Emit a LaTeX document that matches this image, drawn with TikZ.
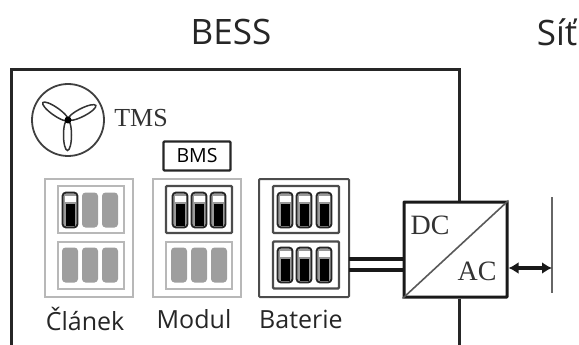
\documentclass[tikz,border=0pt]{standalone}
\usepackage{fontspec}
\setmainfont{Open Sans}
\newfontfamily\serifface{Liberation Serif}
\tikzset{
  wire/.style={line width=3pt, black!85},
  unitoff/.style={draw=black!28, line width=2pt, minimum width=88pt, minimum height=118pt, inner sep=0pt},
  uniton/.style={draw=black!70, line width=2pt, rounded corners=1pt, minimum width=90pt, minimum height=118pt, inner sep=0pt},
  packoff/.style={draw=black!28, line width=2pt, minimum width=66pt, minimum height=47pt, inner sep=0pt},
  packon/.style={draw=black!70, line width=2.2pt, rounded corners=1pt, minimum width=66pt, minimum height=47pt, inner sep=0pt},
  celloff/.style={fill=black!38, rounded corners=3.5pt, minimum width=16pt, minimum height=35pt, inner sep=0pt},
  cellon/.style={draw=black!85, fill=black!40, line width=1.8pt, rounded corners=3.5pt, minimum width=15pt, minimum height=35pt, inner sep=0pt},
  celltop/.style={fill=white, minimum width=11pt, minimum height=6pt, inner sep=0pt},
  cellcore/.style={fill=black, minimum width=9pt, minimum height=22pt, inner sep=0pt},
  blade/.style={draw=black!80, line width=1.5pt, ellipse, minimum width=31pt, minimum height=8pt, inner sep=0pt},
  caption/.style={font=\fontsize{25}{28}\selectfont, text=black!85, inner sep=0pt},
  title/.style={font=\fontsize{35}{38}\selectfont, text=black!85, inner sep=0pt},
  serif/.style={font=\serifface\fontsize{26}{28}\selectfont, text=black!80, inner sep=0pt}
}
\usetikzlibrary{shapes.geometric, arrows.meta}
\begin{document}
\begin{tikzpicture}[x=1pt, y=-1pt]
  \useasboundingbox (0,0) rectangle (579,345);
  % titles
  \node[title] (bess) at (231,32) {BESS};
  \node[title] (sit) at (557,32) {Síť};
  % frame of the storage
  \coordinate (fa) at (11,345);
  \coordinate (fb) at (11,70);
  \coordinate (fc) at (459,70);
  \coordinate (fd) at (459,345);
  % fan
  \node[draw=black!75, line width=1.8pt, circle, minimum size=72pt, inner sep=0pt] (fan) at (68,120) {};
  \node[blade, rotate=-35] (b1) at (55.5,111.5) {};
  \node[blade, rotate=27] (b2) at (82,112.5) {};
  \node[blade, rotate=90] (b3) at (67.5,135) {};
  \node[fill=black, circle, minimum size=7pt, inner sep=0pt] (hub) at (68,120) {};
  \node[serif] (tms) at (141,118) {TMS};
  % management box
  \node[draw=black!85, line width=2.4pt, rounded corners=1pt, minimum width=67pt, minimum height=29pt, inner sep=0pt, font=\fontsize{19.5}{22}\selectfont] (bms) at (197,156) {BMS};
  % units
  \node[unitoff] (clanek) at (89,238) {};
  \node[unitoff] (modul) at (197,238) {};
  \node[uniton] (baterie) at (304,238) {};
  \node[caption] (tclanek) at (85,319) {Článek};
  \node[caption] (tmodul) at (194,319) {Modul};
  \node[caption] (tbaterie) at (301,319) {Baterie};
  % packs
  \node[packoff] (p1) at (91,209.5) {};
  \node[packoff] (p2) at (91,265) {};
  \node[packon] (p3) at (199,209.5) {};
  \node[packoff] (p4) at (199,265) {};
  \node[packon] (p5) at (306,209.5) {};
  \node[packon] (p6) at (306,265) {};
  % cells
  \foreach \cx/\cy in {90/210, 110/210, 70/265, 90/265, 110/265, 179/265, 199/265, 219/265}
    \node[celloff] (off-\cx-\cy) at (\cx,\cy) {};
  \foreach \cx/\cy in {70/210, 180/210, 199/210, 218/210, 285/210, 304/210, 324/210, 285/265, 304/265, 324/265} {
    \node[cellon] (on-\cx-\cy) at (\cx,\cy) {};
    \node[celltop] (top-\cx-\cy) at (\cx,\cy-11) {};
    \node[cellcore] (core-\cx-\cy) at (\cx,\cy+5) {};
  }
  % converter
  \node[draw=black!90, line width=3pt, rounded corners=0.5pt, minimum width=103pt, minimum height=95pt, inner sep=0pt, fill=white] (conv) at (455.5,249.5) {};
  \node[serif, font=\serifface\fontsize{28}{30}\selectfont] (dc) at (430,225) {DC};
  \node[serif, font=\serifface\fontsize{28}{30}\selectfont] (ac) at (477,271) {AC};
  % grid bar
  \coordinate (ga) at (552,197);
  \coordinate (gb) at (552,293);
  \coordinate (gc) at (552,268);
  \coordinate (d1) at (349,259);
  \coordinate (d2) at (404,259);
  \coordinate (d3) at (349,270);
  \coordinate (d4) at (404,270);
  % lines
  \draw[wire] (fa) -- (fb) -- (fc) -- (conv.north -| fc);
  \draw[wire] (conv.south -| fd) -- (fd);
  \draw[line width=1.6pt, black!65] (conv.south west) -- (conv.north east);
  \draw[line width=3.4pt, black!90] (d1) -- (d2);
  \draw[line width=3.4pt, black!90] (d3) -- (d4);
  \draw[line width=1.5pt, black!60] (ga) -- (gb);
  \draw[line width=3.2pt, black!90, {Latex[length=10pt,width=12pt]}-{Latex[length=10pt,width=12pt]}] (conv.east |- gc) -- (gc);
\end{tikzpicture}
\end{document}
